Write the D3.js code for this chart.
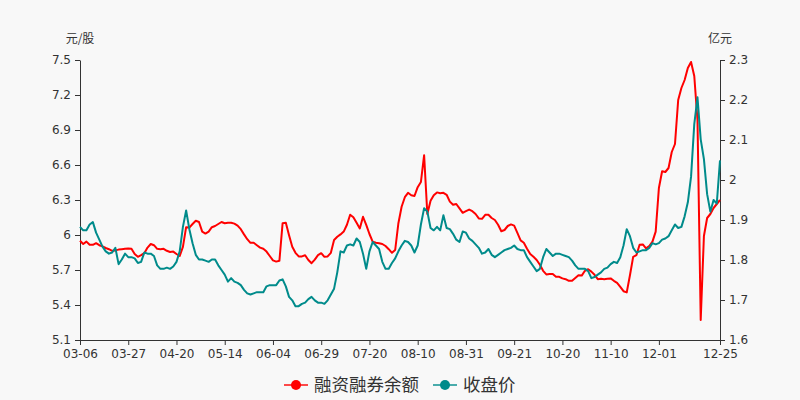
<!DOCTYPE html>
<html>
<head>
<meta charset="utf-8">
<script src="https://cdn.jsdelivr.net/npm/d3@7/dist/d3.min.js"></script>
<style>
  body { margin: 0; background: #f8f8f8; }
  svg { display: block; }
</style>
</head>
<body>
<script>
// ---- Data ----
const seriesNames = ["融资融券余额", "收盘价"];
const xTickIndex = [0, 15, 30, 45, 60, 75, 90, 105, 120, 135, 150, 165, 180, 199];
const xTickLabels = ["03-06", "03-27", "04-20", "05-14", "06-04", "06-29", "07-20", "08-10", "08-31", "09-21", "10-20", "11-10", "12-01", "12-25"];
const leftTicks = [5.1, 5.4, 5.7, 6.0, 6.3, 6.6, 6.9, 7.2, 7.5];
const leftTickLabels = ["5.1", "5.4", "5.7", "6", "6.3", "6.6", "6.9", "7.2", "7.5"];
const rightTicks = [1.6, 1.7, 1.8, 1.9, 2.0, 2.1, 2.2, 2.3];
const rightTickLabels = ["1.6", "1.7", "1.8", "1.9", "2", "2.1", "2.2", "2.3"];

// 融资融券余额 (亿元, right axis)
const marginBalance = [
  1.848,1.840,1.846,1.838,1.838,1.842,1.837,1.834,1.830,1.827,
  1.823,1.824,1.826,1.827,1.828,1.829,1.828,1.815,1.808,1.812,
  1.817,1.831,1.840,1.837,1.828,1.827,1.828,1.823,1.820,1.821,
  1.815,1.810,1.833,1.882,1.881,1.890,1.898,1.895,1.871,1.866,
  1.871,1.882,1.885,1.890,1.895,1.892,1.893,1.893,1.891,1.886,
  1.877,1.864,1.852,1.843,1.843,1.837,1.831,1.828,1.821,1.810,
  1.799,1.796,1.798,1.892,1.893,1.862,1.833,1.818,1.809,1.809,
  1.812,1.800,1.792,1.801,1.812,1.817,1.808,1.809,1.818,1.850,
  1.858,1.864,1.871,1.888,1.913,1.907,1.893,1.879,1.908,1.888,
  1.865,1.846,1.843,1.842,1.840,1.835,1.827,1.818,1.825,1.892,
  1.933,1.957,1.968,1.962,1.960,1.982,1.995,2.062,1.915,1.948,
  1.962,1.969,1.967,1.968,1.963,1.946,1.938,1.940,1.929,1.918,
  1.922,1.926,1.922,1.915,1.904,1.903,1.913,1.913,1.905,1.900,
  1.888,1.872,1.875,1.885,1.889,1.886,1.868,1.849,1.843,1.828,
  1.815,1.808,1.800,1.788,1.773,1.764,1.765,1.765,1.758,1.758,
  1.754,1.752,1.748,1.748,1.755,1.762,1.761,1.773,1.777,1.771,
  1.763,1.752,1.753,1.752,1.753,1.754,1.748,1.743,1.733,1.722,
  1.719,1.762,1.808,1.812,1.838,1.839,1.829,1.835,1.846,1.871,
  1.980,2.022,2.020,2.030,2.070,2.090,2.200,2.230,2.250,2.280,
  2.295,2.260,2.150,1.650,1.860,1.905,1.915,1.930,1.940,1.950
];

// 收盘价 (元/股, left axis)
const closePrice = [
  6.07,6.04,6.04,6.09,6.11,6.02,5.96,5.90,5.86,5.84,
  5.85,5.89,5.75,5.79,5.84,5.81,5.81,5.80,5.76,5.77,
  5.85,5.84,5.84,5.82,5.74,5.71,5.71,5.72,5.71,5.73,
  5.77,5.86,6.07,6.21,6.05,5.93,5.83,5.79,5.79,5.78,
  5.77,5.79,5.79,5.74,5.70,5.66,5.60,5.63,5.60,5.59,
  5.57,5.53,5.50,5.49,5.50,5.51,5.51,5.51,5.56,5.57,
  5.57,5.57,5.61,5.62,5.56,5.47,5.44,5.39,5.39,5.41,
  5.42,5.45,5.47,5.44,5.42,5.42,5.41,5.44,5.49,5.54,
  5.68,5.86,5.85,5.91,5.92,5.91,5.97,5.94,5.84,5.71,
  5.86,5.94,5.91,5.88,5.77,5.71,5.71,5.76,5.80,5.86,
  5.91,5.95,5.94,5.91,5.85,5.91,6.09,6.23,6.20,6.06,
  6.04,6.07,6.04,6.17,6.06,6.05,6.01,5.96,5.94,6.03,
  6.02,5.97,5.95,5.92,5.89,5.84,5.85,5.88,5.83,5.81,
  5.83,5.85,5.87,5.88,5.89,5.91,5.88,5.87,5.87,5.81,
  5.77,5.73,5.69,5.71,5.81,5.88,5.85,5.82,5.84,5.84,
  5.83,5.82,5.81,5.78,5.74,5.71,5.71,5.71,5.69,5.63,
  5.64,5.66,5.68,5.71,5.72,5.75,5.77,5.76,5.81,5.91,
  6.05,5.99,5.89,5.85,5.86,5.87,5.87,5.89,5.93,5.92,
  5.93,5.96,5.97,5.99,6.04,6.09,6.06,6.07,6.16,6.28,
  6.50,6.95,7.18,6.82,6.65,6.35,6.20,6.30,6.27,6.64
];

const colors = ["#ff0000", "#008b8b"];

// ---- Chart ----
const W = 800, H = 400;
const m = { left: 80, right: 80, top: 60, bottom: 60 };
const svg = d3.select("body").append("svg").attr("width", W).attr("height", H);
svg.append("rect").attr("width", W).attr("height", H).attr("fill", "#f8f8f8");

const N = closePrice.length;
const x = d3.scaleLinear().domain([0, N - 1]).range([m.left, W - m.right]);
const yL = d3.scaleLinear().domain([5.1, 7.5]).range([H - m.bottom, m.top]);
const yR = d3.scaleLinear().domain([1.6, 2.3]).range([H - m.bottom, m.top]);

const font = "DejaVu Sans, sans-serif";
function styleAxis(g) {
  g.selectAll("path.domain").attr("stroke", "#333").attr("stroke-width", 1);
  g.selectAll(".tick line").attr("stroke", "#333");
  g.selectAll(".tick text").attr("fill", "#333").style("font-family", font).style("font-size", "12px");
}

svg.append("g").attr("transform", `translate(${m.left},0)`)
  .call(d3.axisLeft(yL).tickValues(leftTicks).tickFormat((d, i) => leftTickLabels[i]).tickSize(5).tickSizeOuter(0).tickPadding(4))
  .call(styleAxis);

svg.append("g").attr("transform", `translate(${W - m.right},0)`)
  .call(d3.axisRight(yR).tickValues(rightTicks).tickFormat((d, i) => rightTickLabels[i]).tickSize(5).tickSizeOuter(0).tickPadding(4))
  .call(styleAxis);

svg.append("g").attr("transform", `translate(0,${H - m.bottom})`)
  .call(d3.axisBottom(x).tickValues(xTickIndex).tickFormat((d, i) => xTickLabels[i]).tickSize(5).tickSizeOuter(0).tickPadding(4))
  .call(styleAxis);

// axis titles
svg.append("text").attr("x", m.left).attr("y", 43).attr("text-anchor", "middle")
  .attr("fill", "#333").style("font-family", "Noto Sans CJK SC, sans-serif").style("font-size", "12px").text("元/股");
svg.append("text").attr("x", W - m.right).attr("y", 43).attr("text-anchor", "middle")
  .attr("fill", "#333").style("font-family", "Noto Sans CJK SC, sans-serif").style("font-size", "12px").text("亿元");

// lines
const lineR = d3.line().x((d, i) => x(i)).y(d => yR(d));
const lineL = d3.line().x((d, i) => x(i)).y(d => yL(d));

svg.append("path").datum(marginBalance).attr("d", lineR)
  .attr("fill", "none").attr("stroke", colors[0]).attr("stroke-width", 2).attr("stroke-linejoin", "round");
svg.append("path").datum(closePrice).attr("d", lineL)
  .attr("fill", "none").attr("stroke", colors[1]).attr("stroke-width", 2).attr("stroke-linejoin", "round");

// legend
const legendItems = [
  { name: seriesNames[0], color: colors[0], x0: 284 },
  { name: seriesNames[1], color: colors[1], x0: 433 }
];
const lg = svg.append("g");
legendItems.forEach(it => {
  const g = lg.append("g").attr("transform", `translate(${it.x0},385)`);
  g.append("line").attr("x1", 0).attr("x2", 24).attr("y1", 0).attr("y2", 0)
    .attr("stroke", it.color).attr("stroke-width", 2).attr("opacity", 0.7);
  g.append("circle").attr("cx", 12).attr("cy", 0).attr("r", 5).attr("fill", it.color);
  g.append("text").attr("x", 30).attr("y", 0).attr("dy", "0.35em")
    .attr("fill", "#333").style("font-family", "Noto Sans CJK SC, sans-serif").style("font-size", "17.5px").text(it.name);
});
</script>
</body>
</html>
